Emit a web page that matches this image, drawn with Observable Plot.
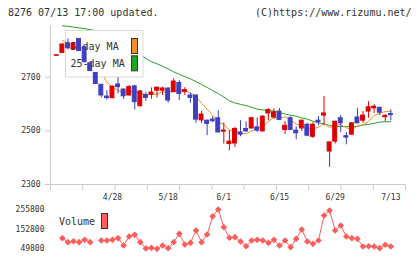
<!DOCTYPE html>
<html><head><meta charset="utf-8">
<script src="https://cdn.jsdelivr.net/npm/d3@7"></script>
<script src="https://cdn.jsdelivr.net/npm/@observablehq/plot@0.6"></script>
<style>
body{margin:0;background:#fff}
#wrap{position:relative;width:420px;height:259px;overflow:hidden;font-family:"DejaVu Sans Mono",monospace}
.t{position:absolute;font-size:10px;color:#333;white-space:nowrap;line-height:12px}
#wrap svg{position:absolute;left:0}
</style>
</head><body>
<div id="wrap">
  <div class="t" style="left:8px;top:7px">8276 07/13 17:00 updated.</div>
  <div class="t" style="left:255px;top:7px">(C)https://www.rizumu.net/</div>
</div>
<script>
const dates = ["4/14","4/15","4/18","4/19","4/20","4/21","4/22","4/25","4/26","4/27","4/28","5/2","5/6","5/9","5/10","5/11","5/12","5/13","5/16","5/17","5/18","5/19","5/20","5/23","5/24","5/25","5/26","5/27","5/30","5/31","6/1","6/2","6/3","6/6","6/7","6/8","6/9","6/10","6/13","6/14","6/15","6/16","6/17","6/20","6/21","6/22","6/23","6/24","6/27","6/28","6/29","6/30","7/1","7/4","7/5","7/6","7/7","7/8","7/11","7/12","7/13"];
const xLabels = ["4/28","5/18","6/1","6/15","6/29","7/13"];
const yTicks = [2300, 2500, 2700];
const volTicks = [49800, 152800, 255800];

const open  = [2780,2791,2827,2804,2843,2812,2752,2716,2672,2628,2622,2673,2654,2632,2666,2592,2634,2635,2650,2650,2658,2644,2679,2645,2632,2632,2539,2538,2542,2547,2497,2451,2453,2494,2507,2509,2513,2498,2565,2550,2572,2503,2547,2501,2509,2523,2478,2538,2557,2423,2460,2547,2480,2486,2550,2538,2572,2584,2586,2551,2563];
const high  = [2782,2826,2843,2827,2844,2813,2752,2716,2672,2650,2667,2698,2657,2669,2670,2650,2644,2660,2663,2663,2660,2694,2688,2661,2640,2633,2573,2540,2552,2575,2530,2501,2513,2538,2534,2549,2548,2556,2582,2582,2583,2534,2553,2516,2540,2527,2530,2553,2628,2457,2536,2557,2494,2531,2584,2572,2609,2598,2588,2560,2578];
const low   = [2780,2789,2802,2803,2797,2756,2722,2675,2623,2615,2620,2638,2617,2630,2578,2590,2610,2618,2623,2632,2603,2643,2613,2632,2603,2528,2528,2482,2530,2494,2451,2426,2438,2478,2494,2507,2494,2496,2538,2544,2538,2486,2500,2467,2498,2478,2472,2519,2519,2364,2451,2494,2448,2484,2528,2528,2547,2565,2557,2534,2538];
const close = [2782,2822,2808,2825,2798,2756,2723,2675,2632,2622,2665,2663,2629,2663,2607,2647,2623,2643,2661,2658,2613,2684,2638,2652,2623,2542,2561,2526,2536,2494,2501,2460,2507,2486,2498,2547,2501,2553,2578,2569,2541,2519,2504,2491,2538,2482,2523,2532,2565,2457,2534,2528,2475,2528,2528,2557,2588,2590,2568,2556,2559];
const ma5   = [null,2838,2823,2815,2807,2802,2782,2755,2716,2681,2663,2651,2642,2648,2645,2642,2634,2637,2636,2647,2640,2652,2651,2649,2642,2628,2603,2581,2558,2532,2524,2503,2500,2490,2490,2500,2508,2517,2535,2550,2548,2552,2542,2525,2519,2507,2508,2513,2528,2512,2522,2523,2512,2504,2519,2523,2535,2558,2566,2572,2572];
const ma25  = [null,2892,2890,2887,2884,2881,2878,2872,2864,2854,2844,2832,2821,2810,2800,2786,2770,2758,2750,2741,2731,2720,2711,2702,2694,2684,2673,2662,2650,2639,2626,2612,2604,2599,2594,2588,2581,2578,2576,2574,2568,2563,2558,2555,2548,2544,2536,2530,2526,2520,2517,2516,2516,2516,2517,2522,2524,2528,2533,2534,2534];
const volume = [null,105400,84400,89600,84400,97000,84400,null,93300,93300,97000,105400,67100,114300,123200,84400,52000,55000,49800,67100,53000,84400,128400,72300,81200,145700,84400,124800,220000,255800,163000,107500,110600,88100,63400,93300,97000,93300,81200,97000,67100,93300,58200,102200,151000,88100,76000,93300,224400,250600,145700,171900,114300,105400,102200,61900,63400,61900,53000,70800,61900];

const RED = "#dd0000", BLUE = "#3f3fbf", ORANGE = "#f0901e", GREEN = "#22a722", VOL = "#ff5c5c", AXIS = "#cccccc", TXT = "#333333";

const idx = d3.range(dates.length);
const X0 = -1.13, X1 = 62.63;
const xTicks = d3.range(12).map(k => X0 + k * (X1 - X0) / 11);
const labelIdx = xLabels.map(l => dates.indexOf(l));
const candles = idx.map(i => ({i, o: open[i], h: high[i], l: low[i], c: close[i], col: close[i] >= open[i] ? RED : BLUE}));

function maLegend() {
  const g = d3.create("svg:g").attr("font-family", "DejaVu Sans Mono, monospace").attr("font-size", 10).attr("text-anchor", "start");
  g.append("rect").attr("x", 65.5).attr("y", 30.5).attr("width", 77.5).attr("height", 46.5)
    .attr("fill", "#fff").attr("stroke", "#d9d9d9");
  [["5-day MA", ORANGE, 46], ["25-day MA", GREEN, 63.3]].forEach(([label, col, cy]) => {
    g.append("text").attr("x", 70.5).attr("y", cy).attr("dy", "0.35em").attr("text-anchor", "start").attr("fill", TXT).text(label);
    g.append("rect").attr("x", 131.5).attr("y", cy - 7.5).attr("width", 6).attr("height", 15)
      .attr("fill", col).attr("stroke", TXT);
  });
  return g.node();
}

const main = Plot.plot({
  width: 420, height: 210,
  marginTop: 25, marginBottom: 26, marginLeft: 50, marginRight: 15,
  x: {domain: [X0, X1], axis: null},
  y: {domain: [2300, 2893], axis: null},
  color: {type: "identity"},
  style: {fontFamily: "DejaVu Sans Mono, monospace", fontSize: "8px", color: TXT, background: "transparent", overflow: "visible"},
  marks: [
    Plot.ruleX([X0], {stroke: AXIS}),
    Plot.ruleY([2300], {stroke: AXIS}),
    Plot.axisY(yTicks, {tickSize: 5, tickPadding: 5, stroke: AXIS, fill: TXT, tickFormat: d3.format("d"), label: null}),
    Plot.axisX(xTicks, {tickSize: 6, stroke: AXIS, tickFormat: () => "", label: null}),
    Plot.axisX(labelIdx, {tickSize: 0, tickPadding: 10, fill: TXT, tickFormat: i => dates[i], label: null}),
    Plot.line(idx, {x: i => i, y: i => ma25[i], stroke: GREEN, strokeWidth: 1}),
    Plot.line(idx, {x: i => i, y: i => ma5[i], stroke: ORANGE, strokeWidth: 1}),
    maLegend,
    Plot.ruleX(candles, {x: "i", y1: "l", y2: "h", stroke: "col", strokeWidth: 1}),
    Plot.rect(candles, {x1: d => d.i - 0.35, x2: d => d.i + 0.35, y1: "o", y2: "c", fill: "col", stroke: "col", strokeWidth: 1})
  ]
});
main.style.top = "0px";

const vol = Plot.plot({
  width: 420, height: 57,
  marginTop: 7, marginBottom: 10.7, marginLeft: 50, marginRight: 15,
  x: {domain: [X0, X1], axis: null},
  y: {domain: [49800, 255800], axis: null},
  style: {fontFamily: "DejaVu Sans Mono, monospace", fontSize: "8px", color: TXT, background: "transparent", overflow: "visible"},
  marks: [
    Plot.axisY(volTicks, {tickSize: 0, tickPadding: 6, fill: TXT, tickFormat: d3.format("d"), label: null}),
    Plot.line(idx, {x: i => i, y: i => volume[i], stroke: VOL, strokeWidth: 1}),
    Plot.dot(idx.filter(i => volume[i] != null), {x: i => i, y: i => volume[i], symbol: "diamond2", r: 3, fill: VOL})
  ]
});
vol.style.top = "202px";

const wrap = document.getElementById("wrap");
wrap.appendChild(main);
wrap.appendChild(vol);

const vl = document.createElement("div");
vl.className = "t";
vl.style.left = "59px"; vl.style.top = "215.5px";
vl.textContent = "Volume";
wrap.appendChild(vl);
const vb = document.createElement("div");
vb.style.cssText = "position:absolute;left:101px;top:213px;width:5px;height:14px;background:" + VOL + ";border:1px solid #333";
wrap.appendChild(vb);
</script>
</body></html>
